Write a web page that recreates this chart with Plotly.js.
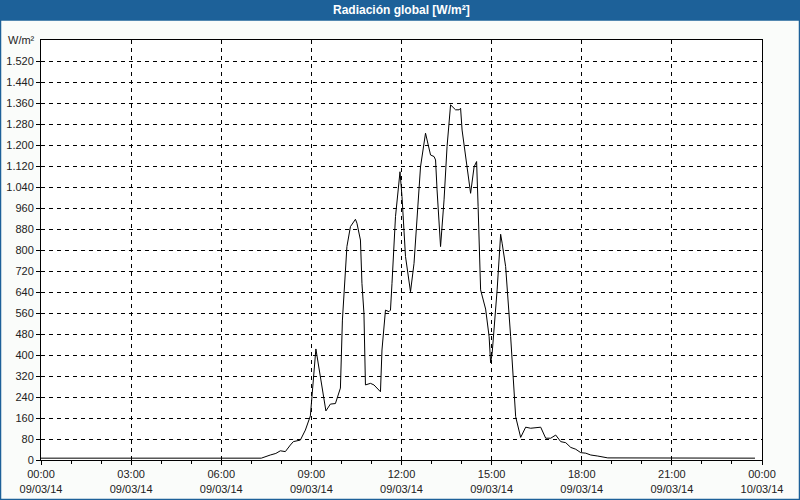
<!DOCTYPE html>
<html>
<head>
<meta charset="utf-8">
<script src="https://cdn.plot.ly/plotly-3.0.1.min.js"></script>
<style>html,body{margin:0;padding:0;background:#fafcfa;}#chart{width:800px;height:500px;}</style>
</head>
<body>
<div id="chart"></div>
<script>
// Data (time of day on 09/03/14, W/m²)
const day = '2014-03-09';
const times = ['00:00','07:20','07:38','07:49','07:58','08:08','08:18','08:24','08:38','08:48','08:58','09:04','09:09',
  '09:29','09:38','09:48','09:52','09:58','10:02','10:08','10:11','10:18','10:28','10:31','10:38','10:41','10:45','10:48',
  '10:58','11:05','11:18','11:21','11:28','11:35','11:38','11:41','11:48','11:57','12:01','12:08','12:18','12:25','12:31',
  '12:38','12:48','12:58','13:05','13:08','13:11','13:18','13:25','13:31','13:38','13:48','13:55','13:58','14:01','14:08',
  '14:18','14:25','14:30','14:33','14:38','14:48','14:55','14:58','15:01','15:11','15:18','15:21','15:28','15:38','15:48',
  '15:58','16:08','16:18','16:38','16:48','16:58','17:08','17:18','17:28','17:38','17:48','17:58','18:08','18:18','18:32',
  '18:52','23:46'];
const values = [7,7,19,25,35,32,57,70,76,114,168,293,423,
  187,213,215,236,274,533,749,813,889,917,902,838,673,559,286,
  292,286,260,419,571,565,571,673,927,1098,1003,775,641,749,902,
  1117,1245,1162,1156,1143,1029,813,991,1194,1353,1334,1334,1340,1257,1156,
  1016,1117,1137,965,648,575,470,370,406,648,860,826,737,470,165,
  86,125,121,125,83,83,95,70,66,48,41,28,26,19,15,
  8,7];
const xTickTimes = ['2014-03-09 00:00','2014-03-09 03:00','2014-03-09 06:00','2014-03-09 09:00','2014-03-09 12:00',
  '2014-03-09 15:00','2014-03-09 18:00','2014-03-09 21:00','2014-03-10 00:00'];
const xTickLabels = ['00:00<br>09/03/14','03:00<br>09/03/14','06:00<br>09/03/14','09:00<br>09/03/14','12:00<br>09/03/14',
  '15:00<br>09/03/14','18:00<br>09/03/14','21:00<br>09/03/14','00:00<br>10/03/14'];
const yTicks = [0,80,160,240,320,400,480,560,640,720,800,880,960,1040,1120,1200,1280,1360,1440,1520];
const titleText = 'Radiación global [W/m²]';
const unitText = 'W/m²';

const x = times.map(t => day + ' ' + t);
const blue = '#1d6199';
const font = {family: 'Liberation Sans, Arial, sans-serif', size: 11, color: '#222'};

const trace = {x: x, y: values, type: 'scatter', mode: 'lines',
  line: {color: '#000', width: 1}, hoverinfo: 'skip'};

const layout = {
  width: 800, height: 500,
  paper_bgcolor: '#fafcfa', plot_bgcolor: '#ffffff',
  margin: {l: 41, r: 38, t: 40, b: 40},
  separators: ',.',
  showlegend: false,
  font: font,
  xaxis: {type: 'date', range: ['2014-03-09 00:00','2014-03-10 00:00'],
    tickvals: xTickTimes, ticktext: xTickLabels, tickfont: font,
    ticks: 'outside', ticklen: 4, tickcolor: '#000',
    minor: {dtick: 3600000, ticks: 'outside', ticklen: 3, tickcolor: '#000', showgrid: false},
    showgrid: true, gridcolor: '#000', gridwidth: 1, griddash: '4px,4px',
    showline: true, linecolor: '#000', linewidth: 1, mirror: true, zeroline: false, fixedrange: true},
  yaxis: {range: [0, 1600], tickvals: yTicks, tickformat: ',d', tickfont: font,
    ticks: 'outside', ticklen: 4, tickcolor: '#000',
    showgrid: true, gridcolor: '#000', gridwidth: 1, griddash: '4px,4px',
    showline: true, linecolor: '#000', linewidth: 1, mirror: true, zeroline: false, fixedrange: true},
  shapes: [
    {type: 'rect', xref: 'paper', yref: 'paper', x0: -41/721, x1: 1 + 38/721, y0: 1 + 20/420, y1: 1 + 40/420,
      fillcolor: blue, line: {width: 0}, layer: 'below'},
    {type: 'rect', xref: 'paper', yref: 'paper', x0: -40.5/721, x1: 1 + 37.5/721, y0: -39.5/420, y1: 1 + 20/420,
      fillcolor: 'rgba(0,0,0,0)', line: {color: blue, width: 1.5}, layer: 'below'}
  ],
  annotations: [
    {text: '<b>' + titleText + '</b>', xref: 'paper', yref: 'paper', x: 0.5, y: 1 + 30/420,
      xanchor: 'center', yanchor: 'middle', showarrow: false,
      font: {family: 'Liberation Sans, Arial, sans-serif', size: 12, color: '#ffffff'}},
    {text: unitText, xref: 'paper', yref: 'paper', x: -4/721, y: 1, xanchor: 'right', yanchor: 'middle',
      showarrow: false, font: font}
  ]
};

Plotly.newPlot('chart', [trace], layout, {staticPlot: true, displayModeBar: false});
</script>
</body>
</html>
